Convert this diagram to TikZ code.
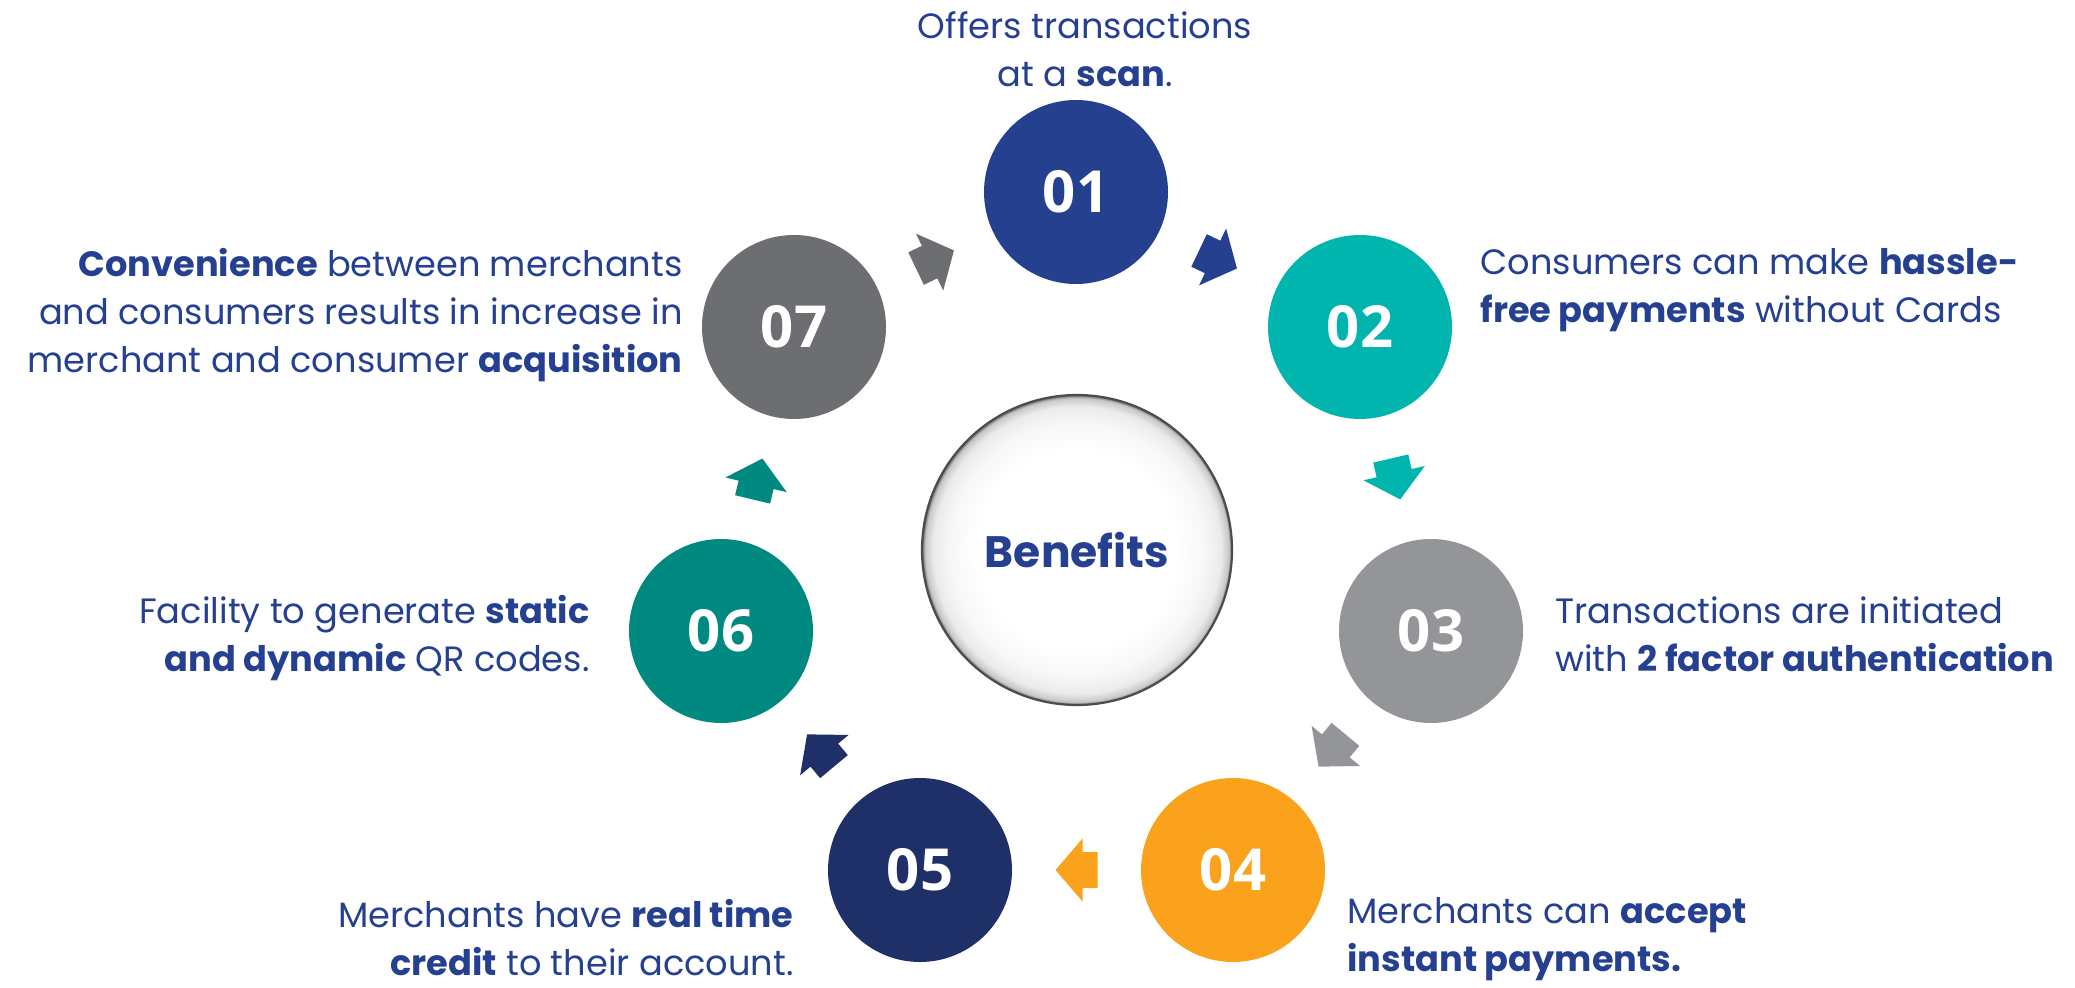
\documentclass[tikz,border=0pt]{standalone}
\usepackage{fontspec}
\setmainfont{Poppins}
\newfontfamily\numfont{Open Sans}
\usetikzlibrary{calc}
\definecolor{txtblue}{RGB}{38,64,145}
\definecolor{cA}{RGB}{37,64,143}
\definecolor{cB}{RGB}{0,181,173}
\definecolor{cC}{RGB}{147,149,152}
\definecolor{cD}{RGB}{250,162,27}
\definecolor{cE}{RGB}{31,48,104}
\definecolor{cF}{RGB}{0,137,128}
\definecolor{cG}{RGB}{109,110,113}
\pgfdeclareradialshading{glass}{\pgfpoint{0bp}{0bp}}{color(0bp)=(white); color(16bp)=(white); color(20.5bp)=(black!3); color(23.2bp)=(black!8); color(24.5bp)=(black!22); color(25bp)=(black!60); color(50bp)=(black!60)}
\tikzset{
  numcircle/.style={circle, minimum size=92pt, inner sep=0pt, text=white, font=\numfont\bfseries\fontsize{29}{34}\selectfont},
  txt/.style={text=txtblue, inner sep=0pt, font=\fontsize{17.6}{24}\selectfont},
  blockarrow/.pic={\fill[pic actions] (-21,-18) -- (-6,-18) -- (-6,-31.5) -- (21,0) -- (-6,31.5) -- (-6,18) -- (-21,18) -- cycle;}
}
\newcommand\linkarrow[3]{%
  \path let \p1=($(#2)-(#1)$), \n1={atan2(\y1,\x1)} in
    pic[fill=#3, rotate=\n1] at ($(#1)!0.5!(#2)$) {blockarrow};}
\begin{document}
\begin{tikzpicture}[x=0.5pt,y=-0.5pt]
\useasboundingbox (0,0) rectangle (2075,988);
% centre
\node[circle, minimum size=155pt, shade, shading=glass, draw=black!70, line width=1.1pt] (ben) at (1077,550) {};
\node[text=txtblue, font=\bfseries\fontsize{22}{26}\selectfont] at (ben) {Benefits};
% step circles
\node[numcircle, fill=cA] (n1) at (1076,192) {01};
\node[numcircle, fill=cB] (n2) at (1360,327) {02};
\node[numcircle, fill=cC] (n3) at (1431,631) {03};
\node[numcircle, fill=cD] (n4) at (1233,870) {04};
\node[numcircle, fill=cE] (n5) at (920,870) {05};
\node[numcircle, fill=cF] (n6) at (721,631) {06};
\node[numcircle, fill=cG] (n7) at (794,327) {07};
% arrows
\linkarrow{n1}{n2}{cA}
\linkarrow{n2}{n3}{cB}
\linkarrow{n3}{n4}{cC}
\linkarrow{n4}{n5}{cD}
\linkarrow{n5}{n6}{cE}
\linkarrow{n6}{n7}{cF}
\linkarrow{n7}{n1}{cG}
% texts (base anchor = baseline of last line)
\node[txt, align=center, anchor=base] (t1) at (1085,87) {Offers transactions\\at a \textbf{scan}.};
\node[txt, align=left, anchor=base west] (t2) at (1480,323) {Consumers can make \textbf{hassle-}\\\textbf{free payments} without Cards};
\node[txt, align=left, anchor=base west] (t3) at (1555,671) {Transactions are initiated\\with \textbf{2 factor authentication}};
\node[txt, align=left, anchor=base west] (t4) at (1347,971) {Merchants can \textbf{accept}\\\textbf{instant payments.}};
\node[txt, align=right, anchor=base east] (t5) at (794,975) {Merchants have \textbf{real time}\\\textbf{credit} to their account.};
\node[txt, align=right, anchor=base east] (t6) at (590,671) {Facility to generate \textbf{static}\\\textbf{and dynamic} QR codes.};
\node[txt, align=right, anchor=base east] (t7) at (683,373) {\textbf{Convenience} between merchants\\and consumers results in increase in\\merchant and consumer \textbf{acquisition}};
\end{tikzpicture}
\end{document}
